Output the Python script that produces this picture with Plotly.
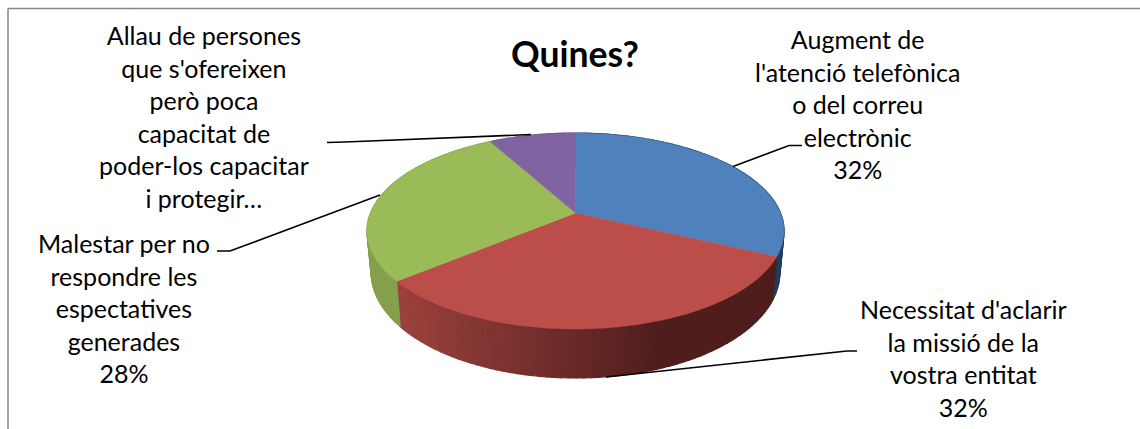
"""
Perspective pie chart "Quines?" drawn with filled scatter traces, so the
slice angles still come straight from the values.
"""

import numpy as np
import plotly.graph_objects as go

title = "Quines?"
categories = [
    "Augment de<br>l'atenció telefònica<br>o del correu<br>electrònic",
    "Necessitat d'aclarir<br>la missió de la<br>vostra entitat",
    "Malestar per no<br>respondre les<br>espectatives<br>generades",
    "Allau de persones<br>que s'ofereixen<br>però poca<br>capacitat de<br>poder-los capacitar<br>i protegir…",
]
values = [32, 32, 28, 8]
show_percent = [True, True, True, False]
top_colors = ["#4F81BD", "#BC4E4A", "#9BBB59", "#8064A2"]
label_centers = [(857, 104), (963, 358), (124, 308), (204, 116)]
leaders = [
    [(802, 145.5), (789, 145.5), (733, 166.5)],
    [(857, 351), (847, 351), (606, 377)],
    [(217, 251), (230, 251), (380, 195)],
    [(327, 142.5), (345, 142), (531, 134.5)],
]

# pie geometry, in page pixels
CX, CY = 575.5, 213
RX, RY = 205, 94.7
PERSP = 0.1837
DEPTH = 40
TAPER = 0.98  # the lower rim is a little narrower than the top
FONT = "Lato"


def project(theta):
    """Map angles (clockwise from 12 o'clock) on to the tilted pie top."""
    u, v = np.sin(theta), np.cos(theta)
    w = 1 + PERSP * v
    return CX + RX * u / w, CY - RY * v / w, DEPTH / w


def side_color(i, x):
    if i == 0:
        return "#1F3D5F"
    if i == 2:
        return "#84A04C"
    if i == 3:
        return "#5F4A7A"
    f = min(max((x - 396) / 264, 0), 1)
    c0, c1 = (156, 66, 62), (79, 30, 28)
    return "rgb(%d,%d,%d)" % tuple(a + (b - a) * f for a, b in zip(c0, c1))


fig = go.Figure()
edges = np.cumsum([0] + values) / sum(values) * 2 * np.pi

# outer wall first, then the top faces paint over its back half
for i in range(len(values)):
    a, b = edges[i], edges[i + 1]
    steps = np.linspace(a, b, max(int((b - a) / 0.03), 2))
    for t0, t1 in zip(steps[:-1], steps[1:]):
        x0, y0, d0 = project(t0)
        x1, y1, d1 = project(t1)
        color = side_color(i, (x0 + x1) / 2)
        fig.add_trace(
            go.Scatter(
                x=[x0, x1, CX + (x1 - CX) * TAPER, CX + (x0 - CX) * TAPER, x0],
                y=[y0, y1, y1 + d1, y0 + d0, y0],
                mode="lines",
                fill="toself",
                fillcolor=color,
                line=dict(color=color, width=1.2),
                hoverinfo="skip",
                showlegend=False,
            )
        )

for i, color in enumerate(top_colors):
    t = np.linspace(edges[i], edges[i + 1], 120)
    px, py, _ = project(t)
    fig.add_trace(
        go.Scatter(
            x=np.r_[CX, px, CX],
            y=np.r_[CY, py, CY],
            mode="lines",
            fill="toself",
            fillcolor=color,
            line=dict(color=color, width=0.5),
            hoverinfo="skip",
            showlegend=False,
        )
    )

for pts in leaders:
    fig.add_trace(
        go.Scatter(
            x=[p[0] for p in pts],
            y=[p[1] for p in pts],
            mode="lines",
            line=dict(color="#000000", width=1.6),
            hoverinfo="skip",
            showlegend=False,
        )
    )

for name, val, show, (lx, ly) in zip(categories, values, show_percent, label_centers):
    text = f"{name}<br>{val}%" if show else name
    fig.add_annotation(
        x=lx, y=ly, text=text, showarrow=False, align="center",
        xanchor="center", yanchor="middle",
        font=dict(family=FONT, size=25, color="#000000"),
    )

fig.add_annotation(
    x=575, y=53, text=f"<b>{title}</b>", showarrow=False,
    xanchor="center", yanchor="middle",
    font=dict(family=FONT, size=35.5, color="#000000"),
)

# chart frame: only the top and left edges fall inside the crop
fig.add_shape(type="line", x0=8, x1=8, y0=8.5, y1=429, line=dict(color="#868686", width=1.5))
fig.add_shape(type="line", x0=8, x1=1140, y0=8.5, y1=8.5, line=dict(color="#868686", width=1.5))

fig.update_layout(
    width=1140,
    height=429,
    margin=dict(l=0, r=0, t=0, b=0),
    paper_bgcolor="#FFFFFF",
    plot_bgcolor="#FFFFFF",
    xaxis=dict(range=[0, 1140], visible=False, fixedrange=True),
    yaxis=dict(range=[429, 0], visible=False, fixedrange=True),
)
# the page's default body margin would push the figure 8px off
fig.write_html(
    "out.html",
    config=dict(displayModeBar=False),
    post_script="document.body.style.margin = '0';",
)
